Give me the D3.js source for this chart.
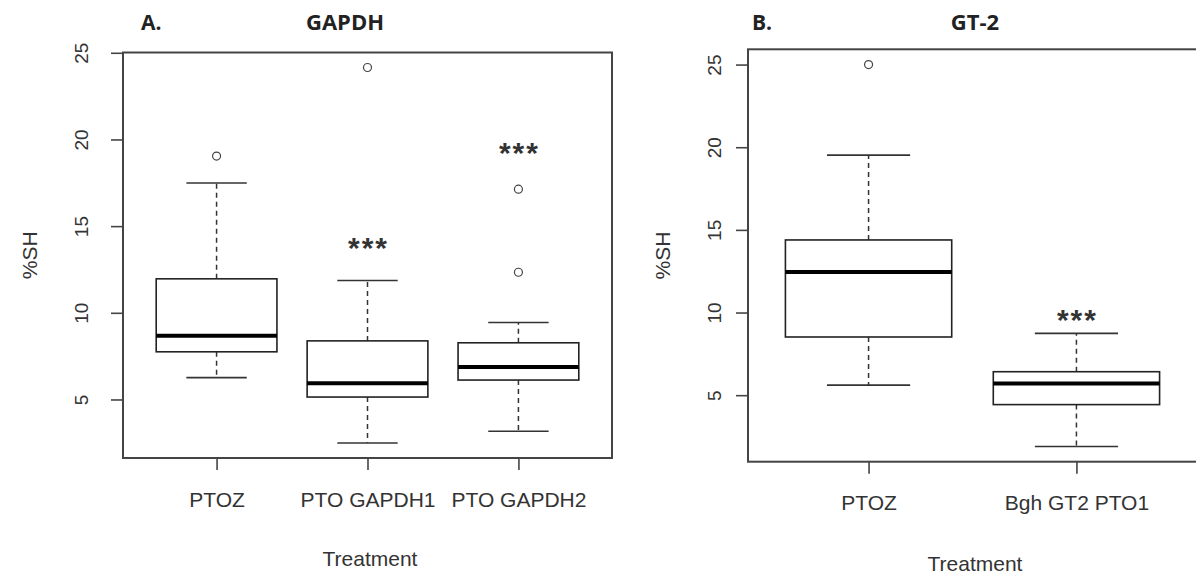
<!DOCTYPE html>
<html>
<head>
<meta charset="utf-8">
<script src="https://cdn.jsdelivr.net/npm/d3@7"></script>
<style>
  body { margin: 0; background: #fff; }
  svg { display: block; }
</style>
</head>
<body>
<svg id="chart"></svg>
<script>
// panel A: GAPDH
const gapdhGroups = ["PTOZ", "PTO GAPDH1", "PTO GAPDH2"];
const gapdhLow = [6.26, 2.49, 3.17];
const gapdhQ1 = [7.75, 5.14, 6.12];
const gapdhMedian = [8.67, 5.93, 6.88];
const gapdhQ3 = [11.96, 8.38, 8.27];
const gapdhHigh = [17.49, 11.86, 9.44];
const gapdhOutliers = [[19.04], [24.15], [17.13, 12.34]];
const gapdhSig = ["", "***", "***"];
const gapdhSigLevel = [null, 14.17, 19.63];

// panel B: GT-2
const gt2Groups = ["PTOZ", "Bgh GT2 PTO1"];
const gt2Low = [5.61, 1.9];
const gt2Q1 = [8.52, 4.43];
const gt2Median = [12.45, 5.70];
const gt2Q3 = [14.39, 6.42];
const gt2High = [19.52, 8.74];
const gt2Outliers = [[25.0], []];
const gt2Sig = ["", "***"];
const gt2SigLevel = [null, 9.96];

const yTicks = [5, 10, 15, 20, 25];

const width = 1196, height = 575;
const svg = d3.select("#chart").attr("width", width).attr("height", height);

const axisFont = "'Liberation Sans', Arial, sans-serif";
const titleFont = "'Open Sans', 'Liberation Sans', sans-serif";
const textColor = "#333";

function drawPanel(p) {
  const n = p.groups.length;
  // R style: xlim c(0.5, n+0.5) padded 4%, ylim = data range padded 4%
  const xPad = n * 0.04;
  const x = d3.scaleLinear().domain([0.5 - xPad, n + 0.5 + xPad]).range([p.left, p.right]);
  const all = d3.merge([p.low, p.high, d3.merge(p.outliers)]);
  const ext = d3.extent(all);
  const yPad = (ext[1] - ext[0]) * 0.04;
  const y = d3.scaleLinear().domain([ext[0] - yPad, ext[1] + yPad]).range([p.bottom, p.top]);

  const g = svg.append("g");
  const boxW = 0.4, capW = 0.2;

  const rows = p.groups.map((name, i) => ({
    name, i: i + 1,
    low: p.low[i], q1: p.q1[i], med: p.median[i], q3: p.q3[i], high: p.high[i],
    out: p.outliers[i], sig: p.sig[i], sigLevel: p.sigLevel[i]
  }));

  const box = g.selectAll("g.box").data(rows).join("g").attr("class", "box");

  // whiskers (dashed)
  box.append("line")
    .attr("x1", d => x(d.i)).attr("x2", d => x(d.i))
    .attr("y1", d => y(d.q3)).attr("y2", d => y(d.high))
    .attr("stroke", "#333").attr("stroke-width", 1.5).attr("stroke-dasharray", "5,4");
  box.append("line")
    .attr("x1", d => x(d.i)).attr("x2", d => x(d.i))
    .attr("y1", d => y(d.q1)).attr("y2", d => y(d.low))
    .attr("stroke", "#333").attr("stroke-width", 1.5).attr("stroke-dasharray", "5,4");
  // staples
  box.append("line")
    .attr("x1", d => x(d.i - capW)).attr("x2", d => x(d.i + capW))
    .attr("y1", d => y(d.high)).attr("y2", d => y(d.high))
    .attr("stroke", "#333").attr("stroke-width", 1.6);
  box.append("line")
    .attr("x1", d => x(d.i - capW)).attr("x2", d => x(d.i + capW))
    .attr("y1", d => y(d.low)).attr("y2", d => y(d.low))
    .attr("stroke", "#333").attr("stroke-width", 1.6);
  // box
  box.append("rect")
    .attr("x", d => x(d.i - boxW))
    .attr("width", d => x(d.i + boxW) - x(d.i - boxW))
    .attr("y", d => y(d.q3))
    .attr("height", d => y(d.q1) - y(d.q3))
    .attr("fill", "#fff").attr("stroke", "#222").attr("stroke-width", 1.6);
  // median
  box.append("line")
    .attr("x1", d => x(d.i - boxW)).attr("x2", d => x(d.i + boxW))
    .attr("y1", d => y(d.med)).attr("y2", d => y(d.med))
    .attr("stroke", "#000").attr("stroke-width", 4);
  // outliers
  box.selectAll("circle")
    .data(d => d.out.map(v => ({ i: d.i, v })))
    .join("circle")
    .attr("cx", d => x(d.i)).attr("cy", d => y(d.v)).attr("r", 4)
    .attr("fill", "none").attr("stroke", "#444").attr("stroke-width", 1.2);
  // significance stars
  box.filter(d => d.sig).append("text")
    .attr("x", d => x(d.i) + 1).attr("y", d => y(d.sigLevel) + 17)
    .attr("text-anchor", "middle")
    .attr("font-family", axisFont).attr("font-size", 30).attr("font-weight", "bold")
    .attr("letter-spacing", 2)
    .attr("fill", "#333")
    .text(d => d.sig);

  // frame
  g.append("rect")
    .attr("x", p.left).attr("y", p.top)
    .attr("width", p.right - p.left).attr("height", p.bottom - p.top)
    .attr("fill", "none").attr("stroke", "#444").attr("stroke-width", 2);

  // y axis
  const ya = g.append("g").attr("transform", `translate(${p.left},0)`)
    .call(d3.axisLeft(y).tickValues(yTicks).tickSize(12).tickFormat(d3.format("d")));
  ya.select(".domain").remove();
  ya.selectAll(".tick line").attr("stroke", "#444").attr("stroke-width", 1.6);
  ya.selectAll(".tick text")
    .attr("transform", "rotate(-90)")
    .attr("x", 0).attr("y", -p.yLabelOff).attr("dy", 0)
    .attr("text-anchor", "middle")
    .attr("font-family", axisFont).attr("font-size", 19).attr("fill", textColor);

  // x axis
  const xa = g.append("g").attr("transform", `translate(0,${p.bottom})`)
    .call(d3.axisBottom(x).tickValues(d3.range(1, n + 1)).tickSize(12)
      .tickFormat(d => p.groups[d - 1]));
  xa.select(".domain").remove();
  xa.selectAll(".tick line").attr("stroke", "#444").attr("stroke-width", 1.6);
  xa.selectAll(".tick text")
    .attr("y", p.xLabelY - p.bottom).attr("dy", 0)
    .attr("font-family", axisFont).attr("font-size", 21).attr("fill", textColor);

  // axis titles
  g.append("text")
    .attr("transform", `translate(${p.ylabX},${(p.top + p.bottom) / 2}) rotate(-90)`)
    .attr("text-anchor", "middle")
    .attr("font-family", axisFont).attr("font-size", 21).attr("fill", textColor)
    .text("%SH");
  g.append("text")
    .attr("x", p.xTitleX).attr("y", p.xTitleY)
    .attr("text-anchor", "middle")
    .attr("font-family", axisFont).attr("font-size", 21).attr("fill", textColor)
    .text("Treatment");

  // panel letter and title
  g.append("text")
    .attr("x", p.letterX).attr("y", 30)
    .attr("font-family", titleFont).attr("font-weight", "bold").attr("font-size", 21)
    .attr("fill", "#222").text(p.letter);
  g.append("text")
    .attr("x", p.titleX).attr("y", 30).attr("text-anchor", "middle")
    .attr("font-family", titleFont).attr("font-weight", "bold").attr("font-size", 22)
    .attr("fill", "#222").text(p.title);
}

drawPanel({
  groups: gapdhGroups, low: gapdhLow, q1: gapdhQ1, median: gapdhMedian, q3: gapdhQ3,
  high: gapdhHigh, outliers: gapdhOutliers, sig: gapdhSig, sigLevel: gapdhSigLevel,
  left: 123, right: 612, top: 52.5, bottom: 458,
  yLabelOff: 35, xLabelY: 507, ylabX: 37, xTitleX: 370, xTitleY: 566,
  letter: "A.", letterX: 141, title: "GAPDH", titleX: 345
});

drawPanel({
  groups: gt2Groups, low: gt2Low, q1: gt2Q1, median: gt2Median, q3: gt2Q3,
  high: gt2High, outliers: gt2Outliers, sig: gt2Sig, sigLevel: gt2SigLevel,
  left: 748, right: 1197, top: 49.3, bottom: 461.7,
  yLabelOff: 27, xLabelY: 510, ylabX: 670, xTitleX: 975, xTitleY: 571,
  letter: "B.", letterX: 752, title: "GT-2", titleX: 975
});
</script>
</body>
</html>
